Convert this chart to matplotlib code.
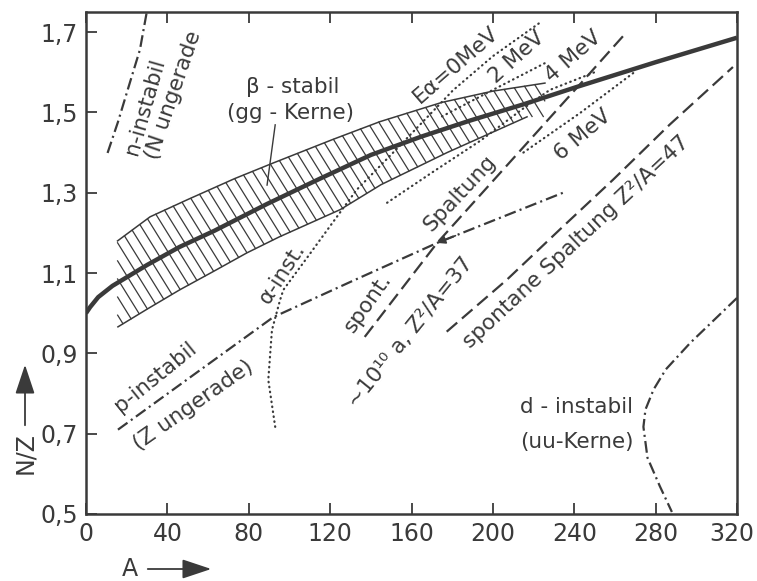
import matplotlib
matplotlib.use("Agg")
import matplotlib.pyplot as plt
import matplotlib.transforms as mtransforms
import numpy as np

plt.rcParams['font.family'] = ['DejaVu Sans']
plt.rcParams['lines.scale_dashes'] = False

INK = '#3a3a3a'

# beta-stability line (N/Z over A)
stab_A = [0, 2, 6, 13, 30, 46, 63, 89, 115, 140, 165, 189, 215, 241, 280, 320]
stab_nz = [1.0, 1.015, 1.04, 1.068, 1.12, 1.165, 1.205, 1.272, 1.335, 1.394, 1.44, 1.48, 1.52, 1.563, 1.625, 1.686]

# hatched band of stable gg nuclei
band_up_A = [15.5, 31.5, 50, 73, 92, 121, 144.5, 175, 200, 225.6]
band_up_nz = [1.18, 1.24, 1.283, 1.335, 1.374, 1.432, 1.477, 1.525, 1.553, 1.573]
band_lo_A = [15.7, 30, 46, 63, 79, 95, 125, 145, 177.5, 216.8]
band_lo_nz = [0.966, 1.01, 1.058, 1.105, 1.15, 1.19, 1.258, 1.32, 1.40, 1.489]

# dash-dot limits
n_inst_A = [10.6, 15.7, 22.4, 26.5, 29.8]
n_inst_nz = [1.399, 1.476, 1.588, 1.656, 1.748]
p_inst_A = [15.7, 50, 92, 130, 172.6, 234.5]
p_inst_nz = [0.71, 0.836, 0.99, 1.078, 1.175, 1.30]
d_inst_A = [320, 297, 285, 279, 275, 274, 276, 282, 288]
d_inst_nz = [1.038, 0.926, 0.86, 0.81, 0.76, 0.717, 0.64, 0.57, 0.505]

# dotted alpha lines
e0_A = [93, 89.6, 91.4, 95.4, 97, 108.5, 120, 133, 151, 170, 180.4, 200, 223]
e0_nz = [0.717, 0.834, 0.958, 1.033, 1.058, 1.137, 1.217, 1.307, 1.40, 1.50, 1.555, 1.64, 1.723]
e2_A = [175, 200, 225.7]
e2_nz = [1.49, 1.556, 1.623]
e4_A = [148, 170, 194, 215, 228, 250]
e4_nz = [1.275, 1.35, 1.43, 1.51, 1.556, 1.60]
e6_A = [215, 243, 269]
e6_nz = [1.40, 1.499, 1.598]

# dashed fission lines
f37_A = [137, 172.6, 241.4, 264]
f37_nz = [0.941, 1.175, 1.562, 1.69]
f47_A = [177.3, 206.8, 234.5, 259, 287, 318]
f47_nz = [0.954, 1.083, 1.216, 1.332, 1.47, 1.613]

lead_A = [93, 89]
lead_nz = [1.469, 1.319]

xticks = [0, 40, 80, 120, 160, 200, 240, 280, 320]
yticks = [0.5, 0.7, 0.9, 1.1, 1.3, 1.5, 1.7]
ylabels = ['0,5', '0,7', '0,9', '1,1', '1,3', '1,5', '1,7']

W, H = 757, 581
fig = plt.figure(figsize=(W / 100, H / 100), dpi=100)
ax = fig.add_axes([86 / W, 1 - 514 / H, 651 / W, 502 / H])
ax.set_xlim(0, 320)
ax.set_ylim(0.5, 1.75)

dashdot = (0, (8.5, 3, 1.5, 3))
dashed = (0, (10, 4.5))
dotted = (0, (0.4, 3.2))

# hatching of the band, lines drawn at a fixed screen angle
sx = 651 / 320
sy = 502 / 1.25
m = 0.62
c_max = band_up_A[-1] * sx + m * band_up_nz[-1] * sy
c_min = band_lo_A[0] * sx + m * band_lo_nz[0] * sy
nz = np.linspace(0.9, 1.7, 800)
c = c_max
while c >= c_min:
    a = (c - m * nz * sy) / sx
    up = np.interp(a, band_up_A, band_up_nz)
    lo = np.interp(a, band_lo_A, band_lo_nz)
    inside = (a >= band_up_A[0]) & (a <= band_up_A[-1]) & (nz <= up) & (nz >= lo)
    yy = np.where(inside, nz, np.nan)
    ax.plot(a, yy, color=INK, lw=0.9)
    c -= 11.2
ax.plot(band_up_A, band_up_nz, color=INK, lw=1.1)
ax.plot(band_lo_A, band_lo_nz, color=INK, lw=1.1)

ax.plot(stab_A, stab_nz, color=INK, lw=3.2, solid_capstyle='butt')

for xs, ys in [(n_inst_A, n_inst_nz), (p_inst_A, p_inst_nz), (d_inst_A, d_inst_nz)]:
    ax.plot(xs, ys, color=INK, lw=1.6, linestyle=dashdot)

for xs, ys in [(e0_A, e0_nz), (e2_A, e2_nz), (e4_A, e4_nz), (e6_A, e6_nz)]:
    ax.plot(xs, ys, color=INK, lw=1.6, linestyle=dotted, dash_capstyle='round')

for xs, ys in [(f37_A, f37_nz), (f47_A, f47_nz)]:
    ax.plot(xs, ys, color=INK, lw=1.6, linestyle=dashed)

ax.plot(lead_A, lead_nz, color=INK, lw=1.0)

# small arrowhead where the dash-dot line meets the Z^2/A=37 line
ax.annotate('', xy=(p_inst_A[4], p_inst_nz[4]),
            xytext=(p_inst_A[4] + 9, p_inst_nz[4] + 0.018),
            arrowprops=dict(arrowstyle='-|>', color=INK, lw=1.2,
                            mutation_scale=12, shrinkA=0, shrinkB=0))

txt = dict(color=INK, fontsize=15.5, ha='center', va='center', rotation_mode='anchor')
ax.text(29, 1.514, 'n-instabil', rotation=74, **txt)
ax.text(42.8, 1.544, '(N ungerade', rotation=71, **txt)
ax.text(101.8, 1.564, 'β - stabil', **txt)
ax.text(100.3, 1.499, '(gg - Kerne)', **txt)
ax.text(181.9, 1.618, 'Eα=0MeV', rotation=41, **txt)
ax.text(211.9, 1.638, '2 MeV', rotation=42, **txt)
ax.text(239.4, 1.638, '4 MeV', rotation=41, **txt)
ax.text(244.3, 1.444, '6 MeV', rotation=40, **txt)
ax.text(183.9, 1.30, 'Spaltung', rotation=47, **txt)
ax.text(138.6, 1.026, 'spont.', rotation=55, **txt)
ax.text(159.3, 0.953, '~10¹⁰ a, Z²/A=37', rotation=51, **txt)
ax.text(240.9, 1.177, 'spontane Spaltung Z²/A=47', rotation=43, **txt)
ax.text(96.4, 1.10, 'α-inst.', rotation=57, **txt)
ax.text(33.9, 0.841, 'p-instabil', rotation=39, **txt)
ax.text(52.6, 0.771, '(Z ungerade)', rotation=35, **txt)
ax.text(269, 0.766, 'd - instabil', color=INK, fontsize=15.5, ha='right', va='center')
ax.text(269, 0.679, '(uu-Kerne)', color=INK, fontsize=15.5, ha='right', va='center')

for s in ax.spines.values():
    s.set_color(INK)
    s.set_linewidth(1.8)
ax.set_xticks(xticks)
ax.set_xticklabels([str(v) for v in xticks])
ax.set_yticks(yticks)
ax.set_yticklabels(ylabels)
ax.tick_params(direction='in', length=8, width=1.3, color=INK, labelcolor=INK,
               labelsize=17, top=True, pad=6)
# keep the last x label inside the figure, as in the original
last = ax.get_xticklabels()[-1]
last.set_transform(last.get_transform() +
                   mtransforms.ScaledTranslation(-4 / 72, 0, fig.dpi_scale_trans))

# axis titles with arrows
fig.text(25 / W, 1 - 453 / H, 'N/Z', rotation=90, ha='center', va='center',
         fontsize=17, color=INK)
fig.patches.append(matplotlib.patches.FancyArrowPatch(
    (25 / W, 1 - 428 / H), (25 / W, 1 - 362 / H), transform=fig.transFigure,
    arrowstyle='-|>,head_length=0.9,head_width=0.3', mutation_scale=20,
    color=INK, lw=1.3))
fig.text(130 / W, 1 - 569 / H, 'A', ha='center', va='center', fontsize=17, color=INK)
fig.patches.append(matplotlib.patches.FancyArrowPatch(
    (145 / W, 1 - 569 / H), (214 / W, 1 - 569 / H), transform=fig.transFigure,
    arrowstyle='-|>,head_length=0.9,head_width=0.3', mutation_scale=20,
    color=INK, lw=1.3))

fig.savefig('out.png', dpi=100, facecolor='white')
